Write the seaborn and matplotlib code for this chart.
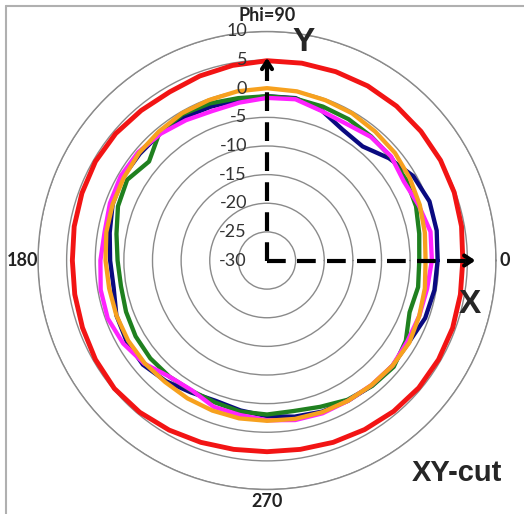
import numpy as np
import pandas as pd
import matplotlib
matplotlib.use('Agg')
import matplotlib.pyplot as plt
import seaborn as sns
from matplotlib.lines import Line2D

# angles of the XY cut (deg) and gain of each trace (dB)
angles = list(range(0, 360, 10))

red = [4.2, 4.5, 4.8, 5.0, 5.1, 5.2, 5.2, 5.1, 5.0, 4.9, 4.6, 4.3,
       4.0, 4.2, 4.5, 4.6, 4.4, 4.2, 4.0, 4.1, 4.3, 4.6, 4.8, 4.6,
       4.2, 3.8, 3.5, 3.4, 3.5, 3.8, 4.1, 4.4, 4.6, 4.6, 4.5, 4.3]
orange = [-2.3, -2.0, -1.6, -1.2, -0.8, -0.6, -0.3, -0.2, 0.0, 0.1, 0.0, -0.2,
          -0.3, -0.6, -0.8, -1.1, -1.3, -1.5, -1.8, -2.0, -2.0, -2.0, -2.1, -2.3,
          -2.2, -2.1, -2.0, -2.0, -1.9, -1.8, -1.7, -1.6, -1.4, -1.3, -1.7, -2.0]
green = [-3.4, -3.0, -2.3, -1.9, -1.8, -1.7, -1.5, -1.4, -1.3, -1.3, -1.2, -0.8,
         -0.5, -0.8, -3.1, -1.8, -2.3, -3.3, -3.9, -4.1, -3.8, -3.5, -3.4, -3.5,
         -3.7, -3.6, -3.2, -3.1, -3.3, -2.8, -1.9, -1.4, -1.1, -2.0, -3.5, -3.2]
navy = [-0.2, 0.1, 0.2, -0.5, -2.2, -4.0, -3.6, -2.1, -1.2, -1.3, -1.5, -1.4,
        -1.1, -1.0, -1.0, -0.9, -1.3, -2.1, -2.6, -2.8, -2.0, -1.7, -1.7, -2.5,
        -3.4, -3.9, -3.4, -2.8, -2.3, -1.9, -1.7, -1.5, -1.4, -1.4, -0.6, -0.3]
magenta = [-1.2, -1.0, -1.8, -2.4, -1.7, -1.8, -2.4, -2.2, -1.4, -1.6, -2.0, -2.2,
           -1.7, -1.1, -0.6, -0.5, -0.8, -1.2, -0.9, -0.5, -0.4, -1.0, -2.0, -3.5,
           -3.8, -2.8, -2.6, -2.1, -1.7, -1.6, -1.7, -1.6, -1.4, -1.7, -1.7, -1.6]

r_ticks = [-30, -25, -20, -15, -10, -5, 0, 5, 10]
theta_ticks = [0, 90, 180, 270]
theta_labels = ['0', 'Phi=90', '180', '270']

traces = {'navy': navy, 'green': green, 'magenta': magenta, 'orange': orange, 'red': red}
palette = {'navy': '#0a0a80', 'green': '#1f801f', 'magenta': '#ff22ff',
           'orange': '#f7a11e', 'red': '#f21414'}

rows = []
for name, vals in traces.items():
    rows.append(pd.DataFrame({'theta': np.deg2rad(angles + [360]),
                              'gain': vals + vals[:1],
                              'trace': name}))
df = pd.concat(rows, ignore_index=True)

sns.set_theme(style='white')
plt.rcParams['font.family'] = ['Lato', 'DejaVu Sans']

fig = plt.figure(figsize=(5.24, 5.14), dpi=100)
ax = fig.add_axes([38 / 524, 24.5 / 514, 458 / 524, 458 / 514], projection='polar')

sns.lineplot(data=df, x='theta', y='gain', hue='trace', hue_order=list(traces),
             palette=palette, sort=False, estimator=None, linewidth=3.1,
             solid_joinstyle='round', solid_capstyle='round',
             legend=False, ax=ax)
# the red trace is drawn a little heavier
ax.lines[-1].set_linewidth(3.5)

ax.set_ylim(r_ticks[0], r_ticks[-1])
ax.set_yticks(r_ticks)
ax.set_yticklabels([])
ax.set_xticks([])
ax.set_xlabel('')
ax.set_ylabel('')
ax.yaxis.grid(True, color='#8a8a8a', lw=1)
ax.spines['polar'].set_color('#8a8a8a')
ax.spines['polar'].set_linewidth(1)

# radial labels beside the vertical axis
for v in r_ticks:
    ax.annotate(str(v), xy=(np.pi / 2, v), xytext=(-20, 0), textcoords='offset pixels',
                ha='right', va='center', fontsize=13, color='#333333')

# angle labels
offsets = {0: (9, 0), 90: (0, 16), 180: (-15, 0), 270: (0, -12)}
for t, lab in zip(theta_ticks, theta_labels):
    ax.annotate(lab, xy=(np.deg2rad(t), r_ticks[-1]), xytext=offsets[t],
                textcoords='offset pixels', ha='center', va='center',
                fontsize=13, fontweight='bold', color='#222222',
                annotation_clip=False)

# dashed X / Y axes arrows
ax.plot([np.pi / 2, np.pi / 2], [-30, 4.6], color='black', lw=3, dashes=(4.5, 2.7))
ax.plot([0, 0], [-30, 5.6], color='black', lw=3, dashes=(4.5, 2.7))
for th, tip in [(np.pi / 2, 5.4), (0, 6.4)]:
    ax.annotate('', xy=(th, tip), xytext=(th, tip - 1.5),
                arrowprops=dict(arrowstyle='->,head_length=0.45,head_width=0.3',
                                lw=3, color='black', shrinkA=0, shrinkB=0))

ax.text(0.579, 0.977, 'Y', transform=ax.transAxes, ha='center', va='center',
        fontsize=24, fontweight='bold', family='Liberation Sans')
ax.text(0.943, 0.403, 'X', transform=ax.transAxes, ha='center', va='center',
        fontsize=24, fontweight='bold', family='Liberation Sans')
ax.text(0.915, 0.036, 'XY-cut', transform=ax.transAxes, ha='center', va='center',
        fontsize=21, fontweight='bold', family='Liberation Sans')

# chart border (left and top edges)
fig.add_artist(Line2D([6 / 524, 6 / 524], [0, 1 - 6 / 514], transform=fig.transFigure,
                      color='#b0b0b0', lw=1.5))
fig.add_artist(Line2D([6 / 524, 1], [1 - 6 / 514, 1 - 6 / 514], transform=fig.transFigure,
                      color='#b0b0b0', lw=1.5))

fig.savefig('out.png', dpi=100)
